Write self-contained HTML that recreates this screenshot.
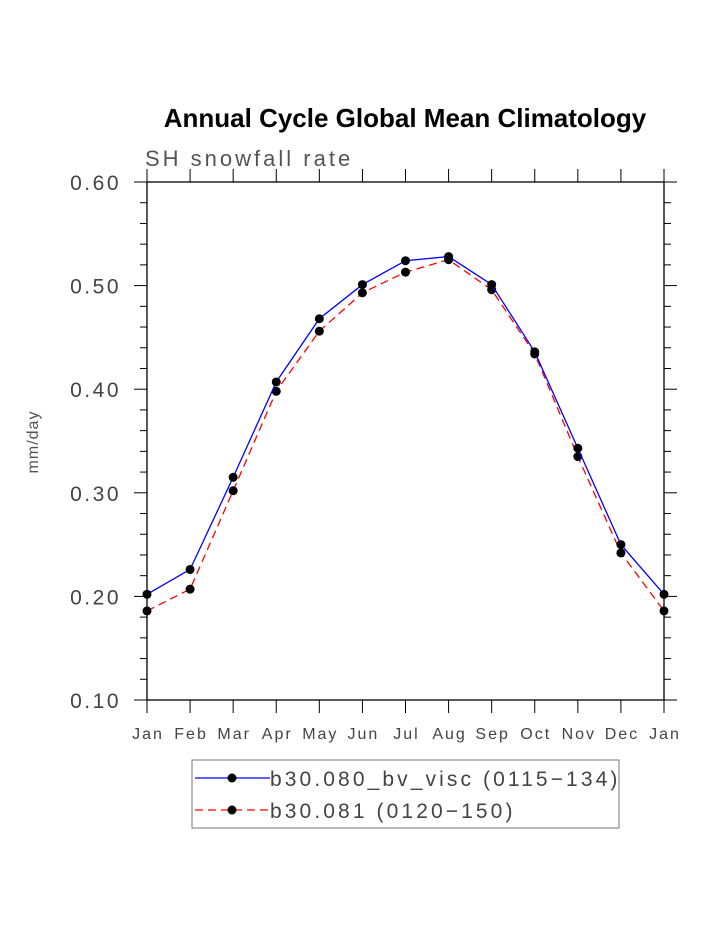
<!DOCTYPE html>
<html><head><meta charset="utf-8"><style>
body{margin:0;background:#fff;}
svg text{font-family:"Liberation Sans",sans-serif;}
</style></head><body>
<svg width="723" height="935" viewBox="0 0 723 935" id="chart">
<rect width="723" height="935" fill="#fff"/>
<text x="405" y="127" text-anchor="middle" font-size="26" font-weight="bold">Annual Cycle Global Mean Climatology</text>
<text x="145" y="166" font-size="22" letter-spacing="3" fill="#555">SH snowfall rate</text>
<text transform="translate(38,442) rotate(-90)" text-anchor="middle" font-size="16" letter-spacing="1" fill="#555">mm/day</text>
<g id="axes"></g><g id="series"></g>
<rect x="192" y="760" width="427" height="68" fill="none" stroke="#777" stroke-width="1"/>
<g>
<line x1="195" y1="778" x2="270" y2="778" stroke="#0000ff" stroke-width="1.3"/>
<circle cx="232" cy="778" r="4.5" fill="#000"/>
<text x="270" y="786" font-size="21" letter-spacing="3.1" fill="#444">b30.080_bv_visc (0115−134)</text></g>
<g>
<line x1="195" y1="810" x2="270" y2="810" stroke="#ff0000" stroke-width="1.3" stroke-dasharray="8,5"/>
<circle cx="232" cy="810" r="4.5" fill="#000"/>
<text x="270" y="818" font-size="21" letter-spacing="3.1" fill="#444">b30.081 (0120−150)</text></g>
</svg>
<script>
const months=["Jan","Feb","Mar","Apr","May","Jun","Jul","Aug","Sep","Oct","Nov","Dec","Jan"];
const blueValues=[0.202,0.226,0.315,0.407,0.468,0.501,0.524,0.528,0.501,0.436,0.343,0.250,0.202];
const redValues=[0.186,0.207,0.302,0.398,0.456,0.493,0.513,0.525,0.496,0.434,0.335,0.242,0.186];
const yTicks=[0.10,0.20,0.30,0.40,0.50,0.60];
const X0=147,X1=664,Y0=700,Y1=182,YMIN=0.1,YMAX=0.6;
const xs=i=>X0+(X1-X0)*i/(months.length-1);
const ys=v=>Y0-(v-YMIN)/(YMAX-YMIN)*(Y0-Y1);
const NS="http://www.w3.org/2000/svg";
function mk(tag,attrs,parent){const e=document.createElementNS(NS,tag);for(const k in attrs)e.setAttribute(k,attrs[k]);parent.appendChild(e);return e;}
const ax=document.getElementById("axes");
const frame=mk("rect",{x:X0,y:Y1,width:X1-X0,height:Y0-Y1,fill:"none",stroke:"#000","stroke-width":1.3},ax);


for(let i=0;i<months.length;i++){
  const x=xs(i);
  mk("line",{x1:x,y1:Y0,x2:x,y2:Y0+13,stroke:"#000"},ax);
  mk("line",{x1:x,y1:Y1,x2:x,y2:Y1-13,stroke:"#000"},ax);
  const t=mk("text",{x:x+1,y:739,"text-anchor":"middle","font-size":16,"letter-spacing":2,fill:"#444"},ax);
  t.textContent=months[i];
  
  
}
for(let v=0.10;v<=0.6001;v+=0.02){
  const y=ys(v);const major=Math.abs(v*10-Math.round(v*10))<1e-6;const L=major?13:7;
  mk("line",{x1:X0,y1:y,x2:X0-L,y2:y,stroke:"#000"},ax);
  mk("line",{x1:X1,y1:y,x2:X1+L,y2:y,stroke:"#000"},ax);
}
yTicks.forEach(v=>{
  const t=mk("text",{x:121,y:ys(v)+8,"text-anchor":"end","font-size":21,"letter-spacing":2.5,fill:"#444"},ax);
  t.textContent=v.toFixed(2);
  
  
});
const sg=document.getElementById("series");
function series(vals,color,dash,name){
  const p=mk("polyline",{points:vals.map((v,i)=>xs(i)+","+ys(v)).join(" "),fill:"none",stroke:color,"stroke-width":1.3,"stroke-dasharray":dash},sg);
  
  
  vals.forEach((v,i)=>{
    const c=mk("circle",{cx:xs(i),cy:ys(v),r:4.5,fill:"#000"},sg);
    
    
  });
}
series(redValues,"#ff0000","8,5","red-series");
series(blueValues,"#0000ff","none","blue-series");
</script>
</body></html>
